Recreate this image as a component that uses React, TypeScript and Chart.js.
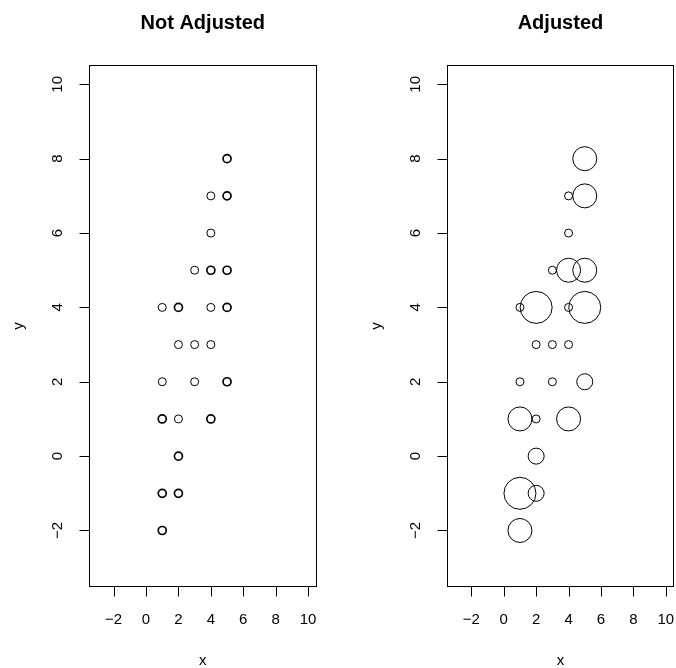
import React, { useEffect, useRef } from "react";
import { Chart, registerables } from "chart.js";

Chart.register(...registerables);

// Observed (x, y) locations and how many observations share each spot
const pointX = [5, 4, 5, 4, 3, 4, 5, 1, 2, 4, 5, 2, 3, 4, 1, 3, 5, 1, 2, 4, 2, 1, 2, 1];
const pointY = [8, 7, 7, 6, 5, 5, 5, 4, 4, 4, 4, 3, 3, 3, 2, 2, 2, 1, 1, 1, 0, -1, -1, -2];
const pointCount = [3, 1, 3, 1, 1, 3, 3, 1, 4, 1, 4, 1, 1, 1, 1, 1, 2, 3, 1, 3, 2, 4, 2, 3];

const axisLimits = [-3, 10];
const tickValues = [-2, 0, 2, 4, 6, 8, 10];
const panelTitles = ["Not Adjusted", "Adjusted"];
const xLabel = "x";
const yLabel = "y";

const FONT = "'Liberation Sans', Arial, Helvetica, sans-serif";
const BASE_RADIUS = 4;

// R-style 4% axis extension
const span = axisLimits[1] - axisLimits[0];
const axisMin = axisLimits[0] - span * 0.04;
const axisMax = axisLimits[1] + span * 0.04;

const fmtTick = (v: number) => (v < 0 ? "\u2212" + Math.abs(v) : String(v));

// Draws the box, outward ticks, rotated y labels and titles the way base graphics does
const framePlugin = {
  id: "rFrame",
  afterDraw(chart: any, _args: any, opts: any) {
    const { ctx, chartArea: a, scales } = chart;
    const xs = scales.x;
    const ys = scales.y;
    const L = Math.round(a.left) + 0.5;
    const R = Math.round(a.right) - 0.5;
    const T = Math.round(a.top) + 0.5;
    const B = Math.round(a.bottom) - 0.5;
    ctx.save();
    ctx.strokeStyle = "#000";
    ctx.lineWidth = 1;
    ctx.strokeRect(L, T, R - L, B - T);

    const tickLen = 10;
    // bottom axis
    const xp = tickValues.map((v) => Math.round(xs.getPixelForValue(v)) + 0.5);
    ctx.beginPath();
    ctx.moveTo(xp[0], B);
    ctx.lineTo(xp[xp.length - 1], B);
    xp.forEach((p) => {
      ctx.moveTo(p, B);
      ctx.lineTo(p, B + tickLen);
    });
    // left axis
    const yp = tickValues.map((v) => Math.round(ys.getPixelForValue(v)) + 0.5);
    ctx.moveTo(L, yp[0]);
    ctx.lineTo(L, yp[yp.length - 1]);
    yp.forEach((p) => {
      ctx.moveTo(L, p);
      ctx.lineTo(L - tickLen, p);
    });
    ctx.stroke();

    ctx.fillStyle = "#000";
    ctx.font = `15px ${FONT}`;
    ctx.textAlign = "center";
    ctx.textBaseline = "middle";
    tickValues.forEach((v) => {
      ctx.fillText(fmtTick(v), xs.getPixelForValue(v), a.bottom + 33);
    });
    tickValues.forEach((v) => {
      ctx.save();
      ctx.translate(a.left - 31, ys.getPixelForValue(v));
      ctx.rotate(-Math.PI / 2);
      ctx.fillText(fmtTick(v), 0, 0);
      ctx.restore();
    });

    // axis titles
    const cx = (a.left + a.right) / 2;
    const cy = (a.top + a.bottom) / 2;
    ctx.fillText(xLabel, cx, a.bottom + 74);
    ctx.save();
    ctx.translate(a.left - 70, cy);
    ctx.rotate(-Math.PI / 2);
    ctx.fillText(yLabel, 0, 0);
    ctx.restore();

    // main title
    ctx.font = `bold 20px ${FONT}`;
    ctx.fillText(opts.title, cx, 23);
    ctx.restore();
  },
};

function Panel({ adjusted, padding, title }: { adjusted: boolean; padding: any; title: string }) {
  const ref = useRef<HTMLCanvasElement>(null);
  useEffect(() => {
    if (!ref.current) return;
    const data = pointX.map((x, i) => ({ x, y: pointY[i] }));
    const radii = pointCount.map((c) => (adjusted ? BASE_RADIUS * c : BASE_RADIUS));
    const widths = pointCount.map((c) => (adjusted ? 1 : c > 1 ? 1.7 : 1));
    const chart = new Chart(ref.current, {
      type: "scatter",
      data: {
        datasets: [
          {
            data,
            pointRadius: radii,
            pointHoverRadius: radii,
            pointBorderWidth: widths,
            pointBorderColor: "#000",
            pointBackgroundColor: "rgba(0,0,0,0)",
            pointStyle: "circle",
          },
        ],
      },
      options: {
        responsive: false,
        animation: false,
        events: [],
        layout: { padding, autoPadding: false },
        scales: {
          x: { type: "linear", min: axisMin, max: axisMax, display: false },
          y: { type: "linear", min: axisMin, max: axisMax, display: false },
        },
        plugins: {
          legend: { display: false },
          tooltip: { enabled: false },
          rFrame: { title },
        } as any,
      },
      plugins: [framePlugin],
    });
    return () => chart.destroy();
  }, [adjusted, padding, title]);
  return <canvas ref={ref} width={338} height={668} style={{ display: "block" }} />;
}

const leftPadding = { left: 89, right: 21.5, top: 65, bottom: 81 };
const rightPadding = { left: 108.7, right: 1.8, top: 65, bottom: 81 };

export default function App() {
  return (
    <div
      style={{
        position: "fixed",
        left: 0,
        top: 0,
        width: 676,
        height: 668,
        background: "#fff",
        display: "flex",
      }}
    >
      <Panel adjusted={false} padding={leftPadding} title={panelTitles[0]} />
      <Panel adjusted={true} padding={rightPadding} title={panelTitles[1]} />
    </div>
  );
}
